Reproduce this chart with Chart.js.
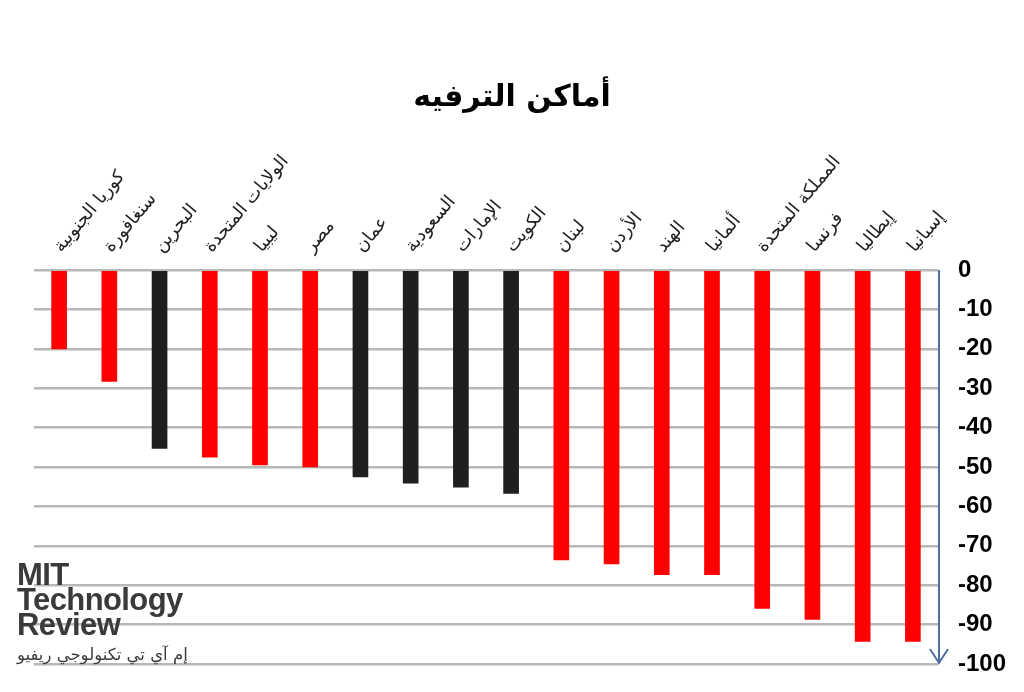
<!DOCTYPE html>
<html lang="ar">
<head>
<meta charset="utf-8">
<script src="https://cdn.jsdelivr.net/npm/chart.js@4.4.1/dist/chart.umd.min.js"></script>
<style>
  html, body { margin: 0; padding: 0; background: #fff; }
  #wrap { position: relative; width: 1024px; height: 692px; }
  #logo { position: absolute; left: 17px; top: 562px; color: #3a3a3a; pointer-events: none; }
  #logo .en { font-family: "Liberation Sans", sans-serif; font-weight: bold; font-size: 31px; line-height: 25px; letter-spacing: -0.6px; }
  #logo .ar { font-family: "DejaVu Sans", sans-serif; font-size: 16.5px; margin-top: 8px; direction: rtl; text-align: left; }
</style>
</head>
<body>
<div id="wrap">
  <canvas id="chart" width="1024" height="692"></canvas>
  <div id="logo">
    <div class="en">MIT<br>Technology<br>Review</div>
    <div class="ar">إم آي تي تكنولوجي ريفيو</div>
  </div>
</div>
<script>
  var countries = ["كوريا الجنوبية", "سنغافورة", "البحرين", "الولايات المتحدة", "ليبيا", "مصر", "عمان", "السعودية", "الإمارات", "الكويت", "لبنان", "الأردن", "الهند", "ألمانيا", "المملكة المتحدة", "فرنسا", "إيطاليا", "إسبانيا"];
  var values = [-20, -28.3, -45.3, -47.5, -49.5, -50, -52.5, -54.1, -55.1, -56.7, -73.6, -74.6, -77.3, -77.3, -85.9, -88.7, -94.3, -94.3];
  // Gulf states are drawn in black, everyone else in red
  var gulfStates = ["البحرين", "عمان", "السعودية", "الإمارات", "الكويت"];
  var chartTitle = "أماكن الترفيه";

  // blue arrow running down the value axis
  var arrowAxis = {
    id: "arrowAxis",
    afterDatasetsDraw: function (chart) {
      var area = chart.chartArea;
      var ctx = chart.ctx;
      var x = area.right + 1;
      ctx.save();
      ctx.strokeStyle = "#4d6f9f";
      ctx.lineWidth = 2;
      ctx.beginPath();
      ctx.moveTo(x, area.top);
      ctx.lineTo(x, area.bottom - 1);
      ctx.moveTo(x - 9, area.bottom - 15);
      ctx.lineTo(x, area.bottom - 1);
      ctx.lineTo(x + 9, area.bottom - 15);
      ctx.stroke();
      ctx.restore();
    }
  };

  new Chart(document.getElementById("chart"), {
    type: "bar",
    data: {
      labels: countries,
      datasets: [{
        data: values,
        backgroundColor: countries.map(function (c) { return gulfStates.indexOf(c) >= 0 ? "#1f1f1f" : "#ff0000"; }),
        barThickness: 15,
        yAxisID: "y"
      }]
    },
    options: {
      responsive: false,
      animation: false,
      layout: { padding: { left: 0, right: 0, top: 0, bottom: 28 } },
      plugins: {
        legend: { display: false },
        tooltip: { enabled: false },
        title: {
          display: true,
          text: chartTitle,
          color: "#000",
          font: { family: "DejaVu Sans", size: 30, weight: "bold", lineHeight: 1.2 },
          padding: { top: 80, bottom: 10 }
        }
      },
      scales: {
        x: {
          position: "top",
          grid: { display: false },
          border: { display: false },
          ticks: {
            autoSkip: false,
            minRotation: 50,
            maxRotation: 50,
            padding: 5,
            labelOffset: 15,
            color: "#222",
            font: { family: "DejaVu Sans", size: 18 }
          },
          afterFit: function (s) { s.height = 144; }
        },
        yPad: {
          type: "linear",
          position: "left",
          grid: { display: false },
          border: { display: false },
          ticks: { display: false },
          afterFit: function (s) { s.width = 34; }
        },
        y: {
          position: "right",
          min: -100,
          max: 0,
          ticks: {
            stepSize: 10,
            padding: 2,
            color: "#000",
            font: { family: "Liberation Sans", size: 24, weight: "bold" }
          },
          grid: { color: "#b8b8b8", lineWidth: 2.5, drawTicks: true, tickLength: 18, tickColor: "rgba(0,0,0,0)" },
          border: { display: false },
          afterFit: function (s) { s.width = 86; }
        }
      }
    },
    plugins: [arrowAxis]
  });
</script>
</body>
</html>
